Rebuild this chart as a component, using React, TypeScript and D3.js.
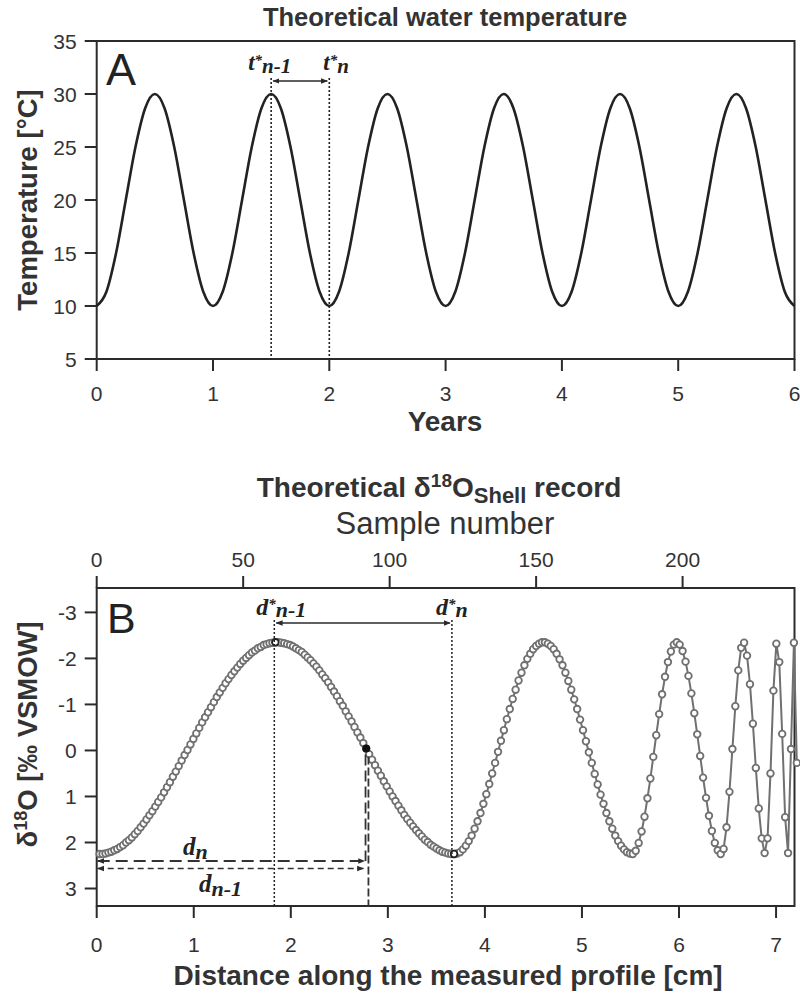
import React from 'react';
import * as d3 from 'd3';

// ---------- Panel A data ----------
const TEMP_STEP = 1 / 12; // years between tabulated (monthly) temperatures
const temperature = [
  10, 11.34, 15, 20, 25, 28.66, 30, 28.66, 25, 20, 15, 11.34,
  10, 11.34, 15, 20, 25, 28.66, 30, 28.66, 25, 20, 15, 11.34,
  10, 11.34, 15, 20, 25, 28.66, 30, 28.66, 25, 20, 15, 11.34,
  10, 11.34, 15, 20, 25, 28.66, 30, 28.66, 25, 20, 15, 11.34,
  10, 11.34, 15, 20, 25, 28.66, 30, 28.66, 25, 20, 15, 11.34,
  10, 11.34, 15, 20, 25, 28.66, 30, 28.66, 25, 20, 15, 11.34,
  10,
];
const yearTicks = [0, 1, 2, 3, 4, 5, 6];
const tempTicks = [5, 10, 15, 20, 25, 30, 35];
const annotYears = [1.5, 2]; // t*n-1, t*n

// ---------- Panel B data ----------
const d18O = [
  2.25, 2.25, 2.24, 2.22, 2.20, 2.17, 2.14, 2.10, 2.06, 2.00,
  1.95, 1.89, 1.82, 1.75, 1.67, 1.59, 1.50, 1.41, 1.32, 1.22,
  1.12, 1.02, 0.91, 0.80, 0.69, 0.57, 0.46, 0.34, 0.22, 0.10,
  -0.01, -0.13, -0.25, -0.37, -0.49, -0.61, -0.72, -0.83, -0.94, -1.05,
  -1.16, -1.26, -1.36, -1.46, -1.55, -1.64, -1.72, -1.80, -1.88, -1.95,
  -2.01, -2.07, -2.13, -2.17, -2.22, -2.25, -2.29, -2.31, -2.33, -2.34,
  -2.35, -2.35, -2.34, -2.33, -2.31, -2.29, -2.26, -2.22, -2.18, -2.14,
  -2.08, -2.02, -1.96, -1.89, -1.82, -1.74, -1.65, -1.57, -1.48, -1.38,
  -1.28, -1.18, -1.07, -0.97, -0.85, -0.74, -0.63, -0.51, -0.39, -0.28,
  -0.16, -0.04, 0.08, 0.20, 0.32, 0.44, 0.55, 0.67, 0.78, 0.89,
  1.00, 1.10, 1.20, 1.30, 1.40, 1.49, 1.57, 1.65, 1.73, 1.80,
  1.87, 1.94, 1.99, 2.05, 2.09, 2.13, 2.17, 2.20, 2.22, 2.24,
  2.25, 2.25,
  2.24, 2.21, 2.15, 2.07, 1.97, 1.85, 1.70, 1.54,
  1.36, 1.16, 0.95, 0.73, 0.50, 0.27, 0.03, -0.21, -0.44, -0.68,
  -0.90, -1.12, -1.32, -1.52, -1.69, -1.85, -1.99, -2.10, -2.20, -2.27,
  -2.32, -2.35, -2.35, -2.32, -2.27, -2.20, -2.10, -1.98, -1.85, -1.69,
  -1.51, -1.32, -1.11, -0.90, -0.67, -0.44, -0.20, 0.04, 0.27, 0.51,
  0.74, 0.96, 1.16, 1.36, 1.54, 1.70, 1.85, 1.97, 2.07, 2.15,
  2.21, 2.24,
  2.25, 2.18, 2.01, 1.76, 1.44, 1.04, 0.61, 0.14,
  -0.33, -0.79, -1.22, -1.60, -1.92, -2.15, -2.30, -2.35, -2.30, -2.16,
  -1.93, -1.62, -1.24, -0.81, -0.35, 0.12, 0.59, 1.03, 1.42, 1.75,
  2.01, 2.17, 2.25,
  2.14, 1.67, 0.90, -0.03, -0.96, -1.74, -2.23,
  -2.34, -2.06, -1.44, -0.58, 0.38, 1.26, 1.91, 2.23,
  1.91, 0.50, -1.30, -2.32, -1.92, -0.36, 1.45, 2.23,
  -0.03, -2.34, 0.27,
];
const sampleTicks = [0, 50, 100, 150, 200];
const distanceTicks = [0, 1, 2, 3, 4, 5, 6, 7];
const d18OTicks = [-3, -2, -1, 0, 1, 2, 3];
const highlightSample = 91; // filled point (index)
const markedSamples = [60, 121]; // darker marked points (index)
const annotDist = { dStarPrev: 1.83, dStar: 3.66, dN: 2.77, dNPrev: 2.80 };

const SANS = "'Liberation Sans', Arial, sans-serif";
const SERIF = "'Liberation Serif', 'Times New Roman', serif";
const AX = '#2b2b2b';
const TXT = '#333';
const GREY = '#707070';

export default function App() {
  const L = 96.7, R = 794.5;
  const xA = d3.scaleLinear().domain([0, 6]).range([L, R]);
  const yA = d3.scaleLinear().domain([5, 35]).range([359, 41]);
  const lineA = d3
    .line<number>()
    .x((_, i) => xA(i * TEMP_STEP))
    .y((d) => yA(d))
    .curve(d3.curveMonotoneX);

  const xB = d3.scaleLinear().domain([0, 7.19]).range([L, R]);
  const sB = d3.scaleLinear().domain([0, 238.2]).range([L, R]);
  const yB = d3.scaleLinear().domain([-3.53, 3.38]).range([588, 906]);
  const topB = yB.range()[0], botB = yB.range()[1];
  const lineB = d3
    .line<number>()
    .x((_, i) => sB(i + 1))
    .y((d) => yB(d));

  const tick = 12;

  return (
    <svg
      width={800}
      height={999}
      style={{ position: 'absolute', left: 0, top: 0, background: '#fff' }}
      fontFamily={SANS}
    >
      <defs>
        <marker id="ah" viewBox="0 0 10 10" refX="9" refY="5" markerWidth="7" markerHeight="7" orient="auto-start-reverse" markerUnits="userSpaceOnUse">
          <path d="M0,1 L10,5 L0,9 Z" fill={AX} />
        </marker>
        <clipPath id="clipB">
          <rect x={L - 6} y={topB} width={R - L + 12} height={botB - topB} />
        </clipPath>
      </defs>

      {/* ================= PANEL A ================= */}
      <text x={445} y={26} textAnchor="middle" fontWeight="bold" fontSize={25.5} fill={TXT}>
        Theoretical water temperature
      </text>

      <rect x={L} y={yA(35)} width={R - L} height={yA(5) - yA(35)} fill="none" stroke={AX} strokeWidth={2} />
      {tempTicks.map((t) => (
        <g key={'ya' + t}>
          <line x1={L - tick} x2={L} y1={yA(t)} y2={yA(t)} stroke={AX} strokeWidth={2} />
          <text x={L - 20} y={yA(t)} dy="0.36em" textAnchor="end" fontSize={21} fill={TXT}>
            {t}
          </text>
        </g>
      ))}
      {yearTicks.map((t) => (
        <g key={'xa' + t}>
          <line x1={xA(t)} x2={xA(t)} y1={yA(5)} y2={yA(5) + tick} stroke={AX} strokeWidth={2} />
          <text x={xA(t)} y={yA(5) + 42} textAnchor="middle" fontSize={21} fill={TXT}>
            {t}
          </text>
        </g>
      ))}
      <text x={445} y={431} textAnchor="middle" fontWeight="bold" fontSize={28} fill={TXT}>
        Years
      </text>
      <text
        transform={`translate(37,${(yA(5) + yA(35)) / 2}) rotate(-90)`}
        textAnchor="middle"
        fontWeight="bold"
        fontSize={27.5}
        fill={TXT}
      >
        Temperature [°C]
      </text>

      <path d={lineA(temperature) || ''} fill="none" stroke="#222" strokeWidth={2.6} />

      <text x={106} y={85} fontSize={45} fill="#222">A</text>
      {annotYears.map((t) => (
        <line key={'ta' + t} x1={xA(t)} x2={xA(t)} y1={78} y2={yA(5)} stroke="#222" strokeWidth={1.6} strokeDasharray="2,2" />
      ))}
      <line x1={xA(annotYears[0]) + 2} x2={xA(annotYears[1]) - 2} y1={81} y2={81} stroke={AX} strokeWidth={1.4} markerStart="url(#ah)" markerEnd="url(#ah)" />
      <text x={xA(annotYears[0]) - 23} y={70} fontFamily={SERIF} fontStyle="italic" fontWeight="bold" fontSize={23} fill="#222">
        t<tspan dy={-5} fontSize={15}>*</tspan>
        <tspan dy={8} fontSize={21}>n-1</tspan>
      </text>
      <text x={xA(annotYears[1]) - 6} y={70} fontFamily={SERIF} fontStyle="italic" fontWeight="bold" fontSize={23} fill="#222">
        t<tspan dy={-5} fontSize={15}>*</tspan>
        <tspan dy={8} fontSize={21}>n</tspan>
      </text>

      {/* ================= PANEL B ================= */}
      <text x={439} y={497} textAnchor="middle" fontWeight="bold" fontSize={28} fill={TXT}>
        Theoretical δ<tspan dy={-10} fontSize={19}>18</tspan>
        <tspan dy={10}>O</tspan>
        <tspan dy={6} fontSize={22}>Shell</tspan>
        <tspan dy={-6}> record</tspan>
      </text>
      <text x={445} y={534} textAnchor="middle" fontSize={31} fill={TXT}>
        Sample number
      </text>

      <rect x={L} y={topB} width={R - L} height={botB - topB} fill="none" stroke={AX} strokeWidth={2} />
      {sampleTicks.map((t) => (
        <g key={'sb' + t}>
          <line x1={sB(t)} x2={sB(t)} y1={topB} y2={topB - tick} stroke={AX} strokeWidth={2} />
          <text x={sB(t)} y={topB - 21} textAnchor="middle" fontSize={21} fill={TXT}>
            {t}
          </text>
        </g>
      ))}
      {distanceTicks.map((t) => (
        <g key={'xb' + t}>
          <line x1={xB(t)} x2={xB(t)} y1={botB} y2={botB + tick} stroke={AX} strokeWidth={2} />
          <text x={xB(t)} y={botB + 46} textAnchor="middle" fontSize={21} fill={TXT}>
            {t}
          </text>
        </g>
      ))}
      {d18OTicks.map((t) => (
        <g key={'yb' + t}>
          <line x1={L - tick} x2={L} y1={yB(t)} y2={yB(t)} stroke={AX} strokeWidth={2} />
          <text x={L - 20} y={yB(t)} dy="0.36em" textAnchor="end" fontSize={21} fill={TXT}>
            {t}
          </text>
        </g>
      ))}
      <text x={448} y={985} textAnchor="middle" fontWeight="bold" fontSize={28} fill={TXT}>
        Distance along the measured profile [cm]
      </text>
      <text
        transform={`translate(37,${yB(-0.35)}) rotate(-90)`}
        textAnchor="middle"
        fontWeight="bold"
        fontSize={27.5}
        fill={TXT}
      >
        δ<tspan dy={-10} fontSize={18}>18</tspan>
        <tspan dy={10}>O [‰ VSMOW]</tspan>
      </text>

      <g clipPath="url(#clipB)">
        <path d={lineB(d18O) || ''} fill="none" stroke={GREY} strokeWidth={2} />
        {d18O.map((v, i) => (
          <circle key={'p' + i} cx={sB(i + 1)} cy={yB(v)} r={3.3} fill="#fff" stroke={GREY} strokeWidth={1.8} />
        ))}
      </g>
      {markedSamples.map((i) => (
        <circle key={'m' + i} cx={sB(i + 1)} cy={yB(d18O[i])} r={3.3} fill="#fff" stroke="#222" strokeWidth={1.8} />
      ))}

      <text x={107} y={633} fontSize={43} fill="#222">B</text>
      {[annotDist.dStarPrev, annotDist.dStar].map((d) => (
        <line key={'ds' + d} x1={xB(d)} x2={xB(d)} y1={620} y2={botB} stroke="#222" strokeWidth={1.5} strokeDasharray="2,2" />
      ))}
      <line x1={xB(annotDist.dStarPrev) + 2} x2={xB(annotDist.dStar) - 2} y1={623} y2={623} stroke={AX} strokeWidth={1.4} markerStart="url(#ah)" markerEnd="url(#ah)" />
      <text x={xB(annotDist.dStarPrev) - 18} y={615} fontFamily={SERIF} fontStyle="italic" fontWeight="bold" fontSize={24} fill="#222">
        d<tspan dy={-6} fontSize={15}>*</tspan>
        <tspan dy={8} fontSize={22}>n-1</tspan>
      </text>
      <text x={xB(annotDist.dStar) - 16} y={615} fontFamily={SERIF} fontStyle="italic" fontWeight="bold" fontSize={24} fill="#222">
        d<tspan dy={-6} fontSize={15}>*</tspan>
        <tspan dy={8} fontSize={22}>n</tspan>
      </text>

      <line x1={xB(annotDist.dN)} x2={xB(annotDist.dN)} y1={yB(0) + 4} y2={861} stroke="#333" strokeWidth={1.8} strokeDasharray="11,5" />
      <line x1={xB(annotDist.dNPrev)} x2={xB(annotDist.dNPrev)} y1={yB(0) + 6} y2={botB} stroke="#333" strokeWidth={1.8} strokeDasharray="8,3" />
      <line x1={L + 1} x2={xB(annotDist.dN) - 1} y1={861} y2={861} stroke="#333" strokeWidth={1.8} strokeDasharray="12,6" markerStart="url(#ah)" markerEnd="url(#ah)" />
      <line x1={L + 1} x2={xB(annotDist.dNPrev) - 5} y1={868.5} y2={868.5} stroke="#333" strokeWidth={1.6} strokeDasharray="6,4" markerStart="url(#ah)" markerEnd="url(#ah)" />
      <circle cx={sB(highlightSample + 1)} cy={yB(d18O[highlightSample])} r={4} fill="#111" />
      <text x={183} y={855} fontFamily={SERIF} fontStyle="italic" fontWeight="bold" fontSize={25} fill="#222">
        d<tspan dy={4} fontSize={22}>n</tspan>
      </text>
      <text x={199} y={892} fontFamily={SERIF} fontStyle="italic" fontWeight="bold" fontSize={25} fill="#222">
        d<tspan dy={4} fontSize={22}>n-1</tspan>
      </text>
    </svg>
  );
}
